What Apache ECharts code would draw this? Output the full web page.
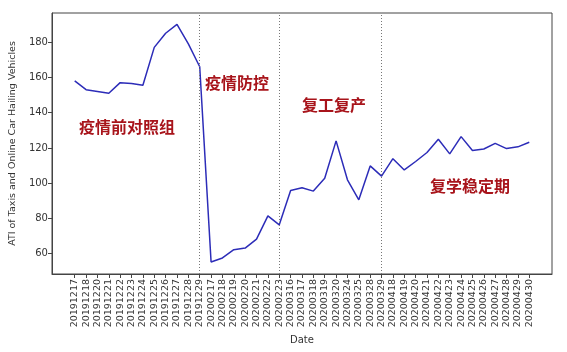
<!DOCTYPE html>
<html lang="en">
<head>
<meta charset="UTF-8">
<title>ATI chart</title>
<script src="https://cdn.jsdelivr.net/npm/echarts@6/dist/echarts.min.js"></script>
<style>
  html, body { margin: 0; padding: 0; background: #fff; }
</style>
</head>
<body>
<div id="main" style="width: 567px;height:352px;"></div>

<script type="text/javascript">
// dates on the x axis
var dates = [
  '20191217','20191218','20191220','20191221','20191222','20191223','20191224','20191225',
  '20191226','20191227','20191228','20191229',
  '20200217','20200218','20200219','20200220','20200221','20200222','20200223',
  '20200316','20200317','20200318','20200319','20200320','20200324','20200325','20200328','20200329',
  '20200418','20200419','20200420','20200421','20200422','20200423','20200424','20200425',
  '20200426','20200427','20200428','20200429','20200430'
];
// ATI values
var ati = [
  158, 153, 152, 151, 157, 156.5, 155.5, 177, 185, 190, 179, 166,
  55.3, 57.6, 62.3, 63.2, 68.3, 81.5, 76.4,
  95.8, 97.4, 95.5, 102.8, 124, 101.9, 90.6, 109.8, 104,
  113.9, 107.5, 112.3, 117.4, 124.9, 116.6, 126.4, 118.5, 119.4, 122.6, 119.6, 120.6, 123.2
];
var yTicks = [60, 80, 100, 120, 140, 160, 180];
// period boundaries (index into dates)
var breaks = [11, 18, 27];
var periods = ['疫情前对照组', '疫情防控', '复工复产', '复学稳定期'];

var xTicks = dates.map(function (d, i) { return i; });
var points = ati.map(function (v, i) { return [i, v]; });

var myChart = echarts.init(document.getElementById('main'));

var font = 'DejaVu Sans';
var redText = {
  fill: '#a8141b',
  fontSize: 16,
  fontWeight: 'bold',
  fontFamily: 'Noto Sans CJK SC'
};

var option = {
  animation: false,
  grid: {
    left: 48, right: 15, top: 13, bottom: 78,
    show: true, borderColor: '#444', borderWidth: 1
  },
  xAxis: {
    type: 'value',
    min: -2, max: 42,
    name: 'Date',
    nameLocation: 'middle',
    nameGap: 60,
    nameTextStyle: { fontFamily: font, fontSize: 10, color: '#333' },
    axisLine: { show: true, onZero: false, lineStyle: { color: '#444' } },
    axisTick: { show: true, length: 4, customValues: xTicks, lineStyle: { color: '#444' } },
    axisLabel: {
      customValues: xTicks,
      rotate: 90,
      fontFamily: font, fontSize: 9.5, color: '#333', margin: 5,
      formatter: function (v) { return dates[v] || ''; }
    },
    splitLine: { show: false }
  },
  yAxis: {
    type: 'value',
    min: 48.5, max: 196.5,
    name: 'ATI of Taxis and Online Car Hailing Vehicles',
    nameLocation: 'middle',
    nameGap: 28,
    nameTextStyle: { fontFamily: font, fontSize: 9.5, color: '#333' },
    axisLine: { show: true, onZero: false, lineStyle: { color: '#444' } },
    axisTick: { show: true, length: 4, customValues: yTicks, lineStyle: { color: '#444' } },
    axisLabel: { customValues: yTicks, fontFamily: font, fontSize: 10, color: '#333', margin: 4 },
    splitLine: { show: false }
  },
  series: [{
    type: 'line',
    data: points,
    symbol: 'none',
    lineStyle: { color: '#2c2cb8', width: 1.5 },
    markLine: {
      silent: true,
      symbol: 'none',
      label: { show: false },
      lineStyle: { color: '#777', type: [1, 2], width: 1 },
      data: breaks.map(function (b) { return { xAxis: b }; })
    }
  }],
  graphic: [
    { type: 'text', left: 79, top: 119, style: Object.assign({ text: periods[0] }, redText) },
    { type: 'text', left: 205, top: 75, style: Object.assign({ text: periods[1] }, redText) },
    { type: 'text', left: 302, top: 97, style: Object.assign({ text: periods[2] }, redText) },
    { type: 'text', left: 430, top: 178, style: Object.assign({ text: periods[3] }, redText) }
  ]
};

myChart.setOption(option);
</script>
</body>
</html>
